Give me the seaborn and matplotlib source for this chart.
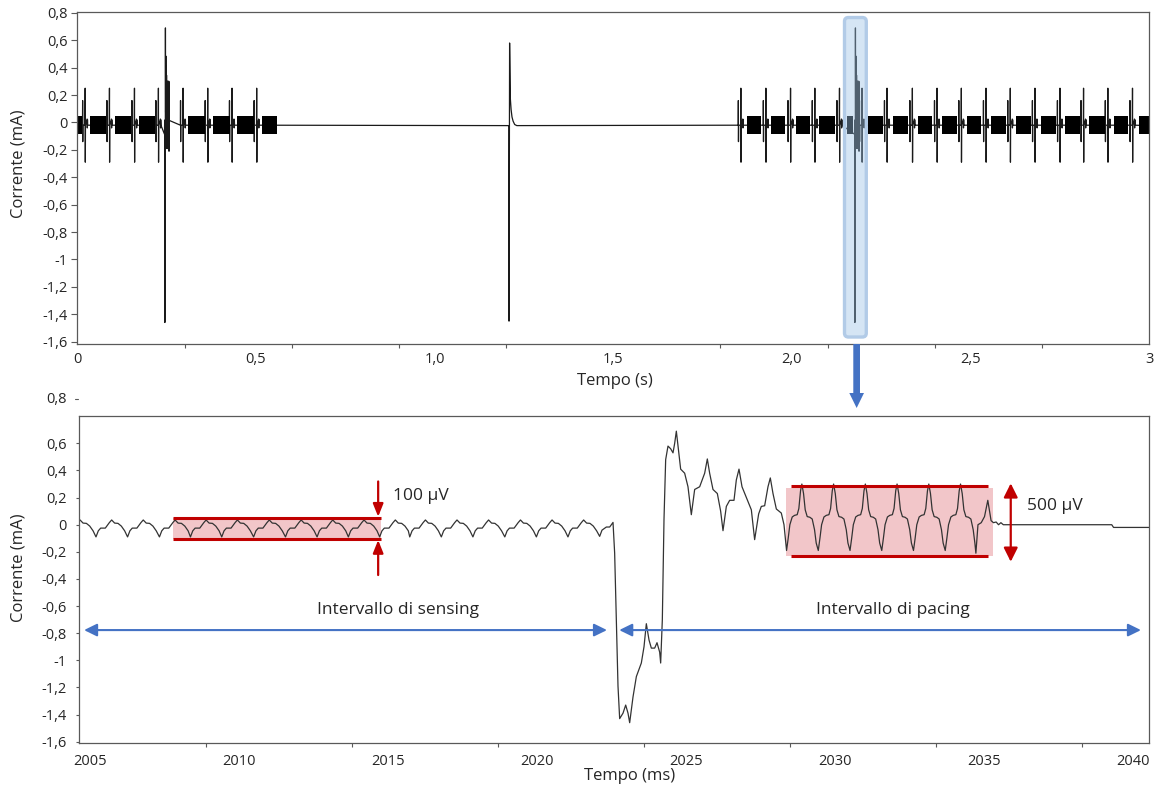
import numpy as np
import pandas as pd
import matplotlib
matplotlib.use("Agg")
import matplotlib.pyplot as plt
import seaborn as sns
from matplotlib.patches import FancyBboxPatch, FancyArrow

# ====================== DATA ======================
# ---- top panel (time in s, current in mA) ----
top_spike_s = [0.022, 0.090, 0.160, 0.227, 0.296, 0.365, 0.433, 0.502,
               1.857, 1.927, 1.996, 2.064, 2.133, 2.196, 2.266, 2.337, 2.406,
               2.474, 2.543, 2.611, 2.680, 2.750, 2.816, 2.884, 2.953]
spike_off_s = [-0.0075, -0.0071, -0.0067, -0.0063, -0.0005, 0.0, 0.0004, 0.0009,
               0.0055, 0.0060, 0.0065, 0.0070]
spike_mA = [-0.02, 0.16, -0.14, -0.02, -0.02, 0.25, -0.29, -0.02, 0.025, -0.04, 0.02, -0.02]

block_start_s = [0.000, 0.036, 0.106, 0.174, 0.310, 0.380, 0.447, 0.517,
                 1.874, 1.940, 2.010, 2.077, 2.155, 2.212, 2.282, 2.352, 2.420,
                 2.490, 2.558, 2.626, 2.696, 2.763, 2.830, 2.900, 2.970]
block_end_s = [0.013, 0.081, 0.150, 0.218, 0.358, 0.426, 0.495, 0.559,
               1.912, 1.980, 2.050, 2.121, 2.172, 2.256, 2.325, 2.393, 2.462,
               2.530, 2.600, 2.669, 2.740, 2.807, 2.875, 2.940, 3.000]
block_hi_mA = 0.045
block_lo_mA = -0.085

top_event_s = [0.2445, 2.1755]          # pacing events (same shape as lower panel)
event_onset_ms = 2022.562
decay_s = [1.2070, 1.2078, 1.2082, 1.2094, 1.2098, 1.2104, 1.2110, 1.2120,
           1.2140, 1.2165, 1.2195, 1.2240, 1.2300]
decay_mA = [-0.023, -0.023, -1.45, 0.0, 0.58, 0.45, 0.29, 0.17, 0.094, 0.04, 0.01, -0.015, -0.023]
top_baseline_mA = -0.023

top_yticks = [-1.6, -1.4, -1.2, -1.0, -0.8, -0.6, -0.4, -0.2, 0.0, 0.2, 0.4, 0.6, 0.8]
top_ylabels = ["-1,6", "-1,4", "-1,2", "-1", "-0,8", "-0,6", "-0,4", "-0,2", "0", "0,2", "0,4", "0,6", "0,8"]
top_xticks = [0.0, 0.5, 1.0, 1.5, 2.0, 2.5, 3.0]
top_xlabels = ["0", "0,5", "1,0", "1,5", "2,0", "2,5", "3"]
top_xminor = [0.3, 0.6, 0.9, 1.2, 1.5, 1.8, 2.1, 2.4, 2.7]

# ---- bottom panel (time in ms, current in mA) ----
sens_dip_ms = [2004.15, 2005.21, 2006.27, 2007.34, 2008.38, 2009.43, 2010.50, 2011.57,
               2012.63, 2013.68, 2014.73, 2015.74, 2016.80, 2017.86, 2018.93, 2019.99, 2021.05]
sens_off_ms = [0.0, 0.078, 0.157, 0.313, 0.447, 0.526, 0.626, 0.738, 0.850, 0.962]
sens_mA = [-0.09, -0.045, -0.025, -0.025, 0.015, 0.035, 0.012, 0.010, -0.010, -0.045]

trans_ms = [2022.114, 2022.192, 2022.338, 2022.450, 2022.562, 2022.617, 2022.673, 2022.729,
            2022.785, 2022.897, 2022.987, 2023.065, 2023.121, 2023.233, 2023.345, 2023.512,
            2023.602, 2023.680, 2023.770, 2023.848, 2023.960, 2024.038, 2024.128, 2024.161,
            2024.217, 2024.273, 2024.329, 2024.407, 2024.497, 2024.575, 2024.631, 2024.687,
            2024.743, 2024.832, 2024.966, 2025.078, 2025.190, 2025.302, 2025.470, 2025.638,
            2025.727, 2025.805, 2025.917, 2026.063, 2026.174, 2026.253, 2026.365, 2026.477,
            2026.622, 2026.700, 2026.790, 2026.891, 2027.092, 2027.204, 2027.315, 2027.450,
            2027.539, 2027.651, 2027.763, 2027.841, 2027.931, 2028.043, 2028.210, 2028.300]
trans_mA = [-0.086, -0.040, -0.017, -0.017, 0.017, -0.21, -0.70, -1.19,
            -1.43, -1.39, -1.33, -1.39, -1.46, -1.27, -1.12, -1.02,
            -0.90, -0.73, -0.85, -0.91, -0.91, -0.87, -0.94, -1.02,
            -0.70, 0.04, 0.48, 0.58, 0.56, 0.53, 0.60, 0.69,
            0.58, 0.41, 0.38, 0.28, 0.074, 0.26, 0.28, 0.38,
            0.485, 0.38, 0.26, 0.23, 0.10, -0.044, 0.135, 0.18,
            0.18, 0.33, 0.41, 0.28, 0.17, 0.11, -0.11, 0.08,
            0.135, 0.14, 0.28, 0.345, 0.23, 0.116, 0.086, 0.0]

pace_peak_ms = [2028.90, 2029.965, 2031.03, 2032.095, 2033.16, 2034.225]
pace_off_ms = [-0.514, -0.459, -0.403, -0.324, -0.246, -0.157, -0.101, -0.045, 0.0,
               0.056, 0.112, 0.179, 0.268, 0.347, 0.425, 0.481]
pace_mA = [-0.19, -0.10, 0.0, 0.057, 0.069, 0.074, 0.12, 0.25, 0.30,
           0.23, 0.11, 0.06, 0.055, 0.042, -0.037, -0.135]

tail_ms = [2034.74, 2034.81, 2034.92, 2035.03, 2035.14, 2035.20, 2035.25, 2035.33,
           2035.42, 2035.50, 2035.58, 2035.66, 2035.76, 2039.30, 2039.36, 2040.56]
tail_mA = [-0.21, 0.0, 0.015, 0.06, 0.18, 0.10, 0.03, 0.015,
           0.02, 0.0, 0.015, 0.0, 0.0, 0.0, -0.02, -0.02]

bot_yticks = [-1.6, -1.4, -1.2, -1.0, -0.8, -0.6, -0.4, -0.2, 0.0, 0.2, 0.4, 0.6]
bot_ylabels = ["-1,6", "-1,4", "-1,2", "-1", "-0,8", "-0,6", "-0,4", "-0,2", "0", "0,2", "0,4", "0,6"]
bot_xticks = [2005, 2010, 2015, 2020, 2025, 2030, 2035, 2040]
bot_xlabels = ["2005", "2010", "2015", "2020", "2025", "2030", "2035", "2040"]
bot_xminor = [2008.9, 2013.8, 2018.7, 2023.6, 2028.5, 2033.4, 2038.3]

# annotation boxes (ms, mA)
sens_box = dict(x0=2007.80, x1=2014.78, hi=0.049, lo=-0.109)
pace_box = dict(x0=2028.36, x1=2035.30, fhi=0.268, flo=-0.231, lx0=2028.55, lx1=2035.15, hi=0.285, lo=-0.231)

# ====================== BUILD TRACES ======================
bt, bv = [], []
for d in sens_dip_ms:
    for o, v in zip(sens_off_ms, sens_mA):
        bt.append(d + o); bv.append(v)
bt += trans_ms; bv += trans_mA
for p in pace_peak_ms:
    for o, v in zip(pace_off_ms, pace_mA):
        bt.append(p + o); bv.append(v)
bt += tail_ms; bv += tail_mA
bot = pd.DataFrame({"t": bt, "v": bv})

pieces = []
for s in top_spike_s:
    pieces.append(([s + o for o in spike_off_s], list(spike_mA)))
mask = (bot.t >= 2022.10) & (bot.t <= 2035.40)
for e in top_event_s:
    pieces.append((list(e + (bot.t[mask] - event_onset_ms) / 1000.0), list(bot.v[mask])))
pieces.append((decay_s, decay_mA))
pieces.sort(key=lambda p: p[0][0])
tt, tv = [0.0], [top_baseline_mA]
for ps, pv in pieces:
    tt += list(ps); tv += list(pv)
tt.append(3.0); tv.append(top_baseline_mA)
top = pd.DataFrame({"t": tt, "v": tv})

# ====================== STYLE ======================
sns.set_theme(style="ticks")
plt.rcParams["font.family"] = ["Open Sans", "DejaVu Sans"]
TXT = "#262626"
SP = "#595959"
RED = "#C00000"
BLUE = "#4472C4"

W, H = 1159, 789
fig = plt.figure(figsize=(W / 100, H / 100), dpi=100)
ax_t = fig.add_axes([77.3 / W, 1 - 344 / H, 1072 / W, 331.7 / H])
ax_b = fig.add_axes([79.3 / W, 1 - 743.3 / H, 1070 / W, 327.6 / H])

# ---------------- top panel ----------------
sns.lineplot(data=top, x="t", y="v", ax=ax_t, sort=False, estimator=None,
             color="#1a1a1a", lw=0.9, zorder=2)
for a, b in zip(block_start_s, block_end_s):
    ax_t.fill_between([a, b], block_lo_mA, block_hi_mA, color="black", lw=0, zorder=2)
ax_t.set_xlim(0, 3)
ax_t.set_ylim(-1.617, 0.804)

# highlight box
hx0, hx1, hy0, hy1 = 2.147, 2.208, -1.566, 0.766
bs = "round,pad=0,rounding_size=0.011"
ax_t.add_patch(FancyBboxPatch((hx0, hy0), hx1 - hx0, hy1 - hy0, boxstyle=bs, mutation_aspect=2.6,
                              facecolor="#9DC3E6", alpha=0.42, edgecolor="none", zorder=3))
ax_t.add_patch(FancyBboxPatch((hx0, hy0), hx1 - hx0, hy1 - hy0, boxstyle=bs, mutation_aspect=2.6,
                              facecolor="none", edgecolor="#B2CBE7", lw=2.4, zorder=4))

# ---------------- bottom panel ----------------
ax_b.fill_between([sens_box["x0"], sens_box["x1"]], sens_box["lo"], sens_box["hi"],
                  color="#F2C6C9", lw=0, zorder=1)
ax_b.fill_between([pace_box["x0"], pace_box["x1"]], pace_box["flo"], pace_box["fhi"],
                  color="#F2C6C9", lw=0, zorder=1)
sns.lineplot(data=bot, x="t", y="v", ax=ax_b, sort=False, estimator=None,
             color="#333333", lw=0.9, zorder=2)
ax_b.plot([sens_box["x0"], sens_box["x1"]], [sens_box["hi"]] * 2, color=RED, lw=2.2, zorder=3, solid_capstyle="butt")
ax_b.plot([sens_box["x0"], sens_box["x1"]], [sens_box["lo"]] * 2, color=RED, lw=2.2, zorder=3, solid_capstyle="butt")
ax_b.plot([pace_box["lx0"], pace_box["lx1"]], [pace_box["hi"]] * 2, color=RED, lw=2.2, zorder=3, solid_capstyle="butt")
ax_b.plot([pace_box["lx0"], pace_box["lx1"]], [pace_box["lo"]] * 2, color=RED, lw=2.2, zorder=3, solid_capstyle="butt")
ax_b.set_xlim(2004.65, 2040.56)
ax_b.set_ylim(-1.612, 0.804)

# red arrows
ap_in = dict(arrowstyle="-|>,head_length=0.55,head_width=0.22", color=RED, lw=1.6,
             shrinkA=0, shrinkB=0, mutation_scale=14)
ax_b.annotate("", xy=(2014.68, 0.059), xytext=(2014.68, 0.319), arrowprops=ap_in, zorder=4)
ax_b.annotate("", xy=(2014.68, -0.113), xytext=(2014.68, -0.371), arrowprops=ap_in, zorder=4)
ax_b.annotate("", xy=(2035.91, 0.305), xytext=(2035.91, -0.273),
              arrowprops=dict(arrowstyle="<|-|>,head_length=0.6,head_width=0.3", color=RED, lw=1.6,
                              shrinkA=0, shrinkB=0, mutation_scale=14), zorder=4)
ax_b.text(2015.18, 0.212, "100 µV", ha="left", va="center", fontsize=12.5, color=TXT)
ax_b.text(2036.45, 0.138, "500 µV", ha="left", va="center", fontsize=12.5, color=TXT)

# blue interval arrows
ap_b = dict(arrowstyle="<|-|>,head_length=0.55,head_width=0.27", color=BLUE, lw=1.5,
            shrinkA=0, shrinkB=0, mutation_scale=14)
ax_b.annotate("", xy=(2004.81, -0.777), xytext=(2022.36, -0.777), arrowprops=ap_b)
ax_b.annotate("", xy=(2022.77, -0.777), xytext=(2040.28, -0.777), arrowprops=ap_b)
ax_b.text(2015.35, -0.629, "Intervallo di sensing", ha="center", va="center", fontsize=12.5, color=TXT)
ax_b.text(2031.94, -0.629, "Intervallo di pacing", ha="center", va="center", fontsize=12.5, color=TXT)

# ---------------- axes styling ----------------
for ax in (ax_t, ax_b):
    ax.set_xlabel(""); ax.set_ylabel("")
    for s in ax.spines.values():
        s.set_visible(True); s.set_color(SP); s.set_linewidth(0.9)

ax_t.set_yticks(top_yticks, top_ylabels)
ax_t.set_xticks(top_xticks, top_xlabels)
ax_t.set_xticks(top_xminor, minor=True)
ax_t.tick_params(axis="y", which="major", length=4.3, width=0.8, color=SP, pad=2.4, labelsize=10.5, labelcolor=TXT)
ax_t.tick_params(axis="x", which="major", length=0, pad=6, labelsize=10.5, labelcolor=TXT)
ax_t.tick_params(axis="x", which="minor", length=3, width=0.8, color=SP)

ax_b.set_yticks(bot_yticks, bot_ylabels)
ax_b.set_xticks(bot_xticks, bot_xlabels)
ax_b.set_xticks(bot_xminor, minor=True)
ax_b.tick_params(axis="y", which="major", length=2.4, width=0.8, color=SP, pad=6.5, labelsize=10.5, labelcolor=TXT)
ax_b.tick_params(axis="x", which="major", length=0, pad=8, labelsize=10.5, labelcolor=TXT)
ax_b.tick_params(axis="x", which="minor", length=3, width=0.8, color=SP)

# displaced "0,8" label of the lower panel
ax_b.text(-(79.3 - 67) / 1070, (743.3 - 399.3) / 327.6, "0,8", transform=ax_b.transAxes,
          ha="right", va="center", fontsize=10.5, color=TXT)
ax_b.plot([-(79.3 - 75) / 1070, -(79.3 - 78) / 1070], [(743.3 - 399.3) / 327.6] * 2,
          transform=ax_b.transAxes, color=SP, lw=0.8, clip_on=False)

# axis titles
fig.text(18.3 / W, 1 - 163.5 / H, "Corrente (mA)", rotation=90, ha="center", va="center", fontsize=12, color=TXT)
fig.text(18.3 / W, 1 - 567.5 / H, "Corrente (mA)", rotation=90, ha="center", va="center", fontsize=12, color=TXT)
fig.text(615 / W, 1 - 381 / H, "Tempo (s)", ha="center", va="center", fontsize=12, color=TXT)
fig.text(630 / W, 1 - 776 / H, "Tempo (ms)", ha="center", va="center", fontsize=12, color=TXT)

# blue arrow linking the panels
ax_x = 77.3 / W + (2.181 / 3.0) * 1072 / W
fig.add_artist(FancyArrow(ax_x, 1 - 344 / H, 0, -(408 - 344) / H, width=6.7 / W,
                          head_width=14.7 / W, head_length=15 / H, length_includes_head=True,
                          transform=fig.transFigure, color=BLUE, lw=0))

fig.savefig("out.png", dpi=100)
